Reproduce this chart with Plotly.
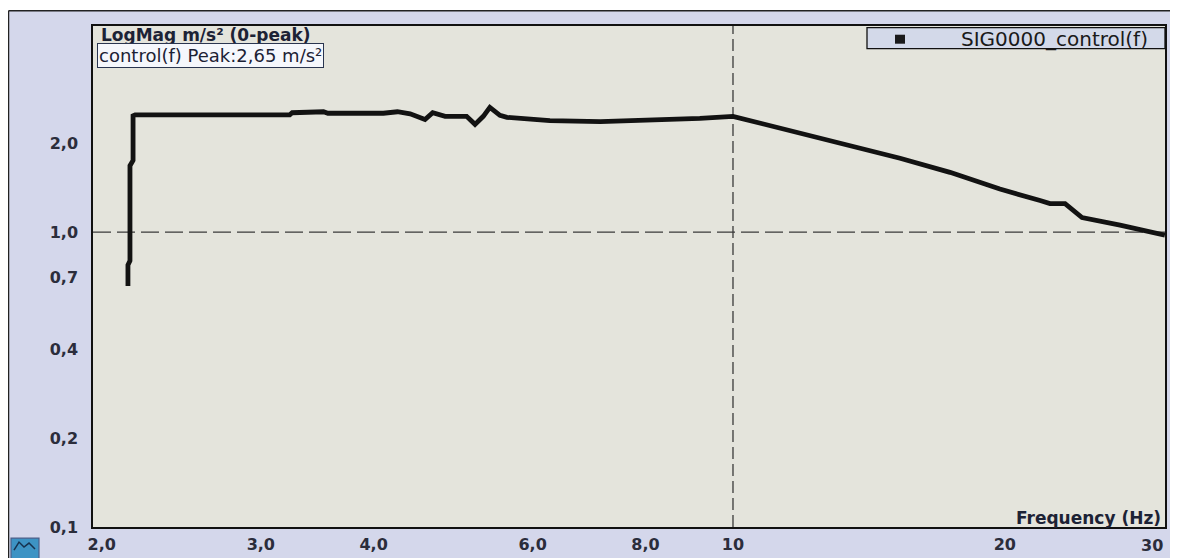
import math
import plotly.graph_objects as go

# ---- data ----
freq_hz = [2.138, 2.138, 2.149, 2.149, 2.166, 2.166, 2.178, 2.69, 2.70, 3.23, 3.25, 3.49,
           3.52, 3.56, 3.89, 4.10, 4.25, 4.39, 4.56, 4.65, 4.80, 5.07, 5.18, 5.29, 5.38,
           5.52, 5.62, 6.27, 7.13, 8.09, 9.19, 10.0, 11.86, 13.48, 15.31, 17.39, 19.75,
           21.88, 22.44, 23.32, 24.35, 26.83, 30.08]
control_mag = [0.657, 0.774, 0.80, 1.68, 1.75, 2.48, 2.50, 2.49, 2.50, 2.50, 2.54, 2.54,
               2.56, 2.53, 2.52, 2.53, 2.56, 2.52, 2.41, 2.54, 2.47, 2.47, 2.32, 2.47, 2.65,
               2.49, 2.45, 2.39, 2.37, 2.39, 2.43, 2.47, 2.16, 1.97, 1.78, 1.595, 1.40,
               1.28, 1.25, 1.25, 1.12, 1.056, 0.977]

x_tick_vals = [2, 3, 4, 6, 8, 10, 20, 30]
x_tick_text = ["2,0", "3,0", "4,0", "6,0", "8,0", "10", "20", "30"]
y_tick_vals = [0.1, 0.2, 0.4, 0.7, 1.0, 2.0]
y_tick_text = ["0,1", "0,2", "0,4", "0,7", "1,0", "2,0"]

series_name = "SIG0000_control(f)"
y_title = "LogMag m/s² (0-peak)"
peak_label = "control(f) Peak:2,65 m/s²"
x_title = "Frequency (Hz)"

# ---- figure geometry ----
W, H = 1178, 558
L, R, T, B = 85, 21, 18, 24
PW, PH = W - L - R, H - T - B
SX, SY = 1.0, 574 / 558   # page offset / scaling of the screenshot


def fx(r):
    return r * SX - 8


def fy(r):
    return r * SY - 8


def px(r):
    return (fx(r) - L) / PW


def py(r):
    return (H - B - fy(r)) / PH


OUTER = "#d4d7eb"
PLOT_BG = "#e4e4dc"
TXT = "#1c2235"

fig = go.Figure()
fig.add_trace(go.Scatter(
    x=freq_hz, y=control_mag, mode="lines", name=series_name,
    line=dict(color="#121212", width=4.8), showlegend=False,
    hoverinfo="x+y",
))

axis_font = dict(family="DejaVu Sans", size=16, color="#2b2d3b", weight="bold")

fig.update_layout(
    width=W, height=H,
    margin=dict(l=L, r=R, t=T, b=B),
    paper_bgcolor=OUTER,
    plot_bgcolor=PLOT_BG,
    showlegend=False,
    xaxis=dict(
        type="log", range=[0.2913, 1.4784],
        tickvals=x_tick_vals[:-1], ticktext=x_tick_text[:-1],
        showgrid=False, zeroline=False, ticks="",
        showline=True, linecolor="#111", linewidth=1.5, mirror=True,
        tickfont=axis_font, ticklabelstandoff=2,
    ),
    yaxis=dict(
        type="log", range=[-1.0, 0.699],
        tickvals=y_tick_vals, ticktext=y_tick_text,
        showgrid=False, zeroline=False, ticks="",
        showline=True, linecolor="#111", linewidth=1.5, mirror=True,
        tickfont=axis_font, ticklabelstandoff=10,
    ),
)

shapes = []
# dashed reference lines
shapes.append(dict(type="line", xref="paper", yref="y", x0=0, x1=1, y0=1.0, y1=1.0,
                   line=dict(color="#3a3a3a", width=1.3, dash="18px,6px"), layer="below"))
shapes.append(dict(type="line", xref="x", yref="paper", x0=10, x1=10, y0=0, y1=1,
                   line=dict(color="#3a3a3a", width=1.3, dash="12px,5px"), layer="below"))
# white margin strips and outer frame
shapes.append(dict(type="rect", xref="paper", yref="paper", x0=px(-20), x1=px(1200),
                   y0=py(10), y1=py(-20), fillcolor="white", line=dict(width=0), layer="above"))
shapes.append(dict(type="rect", xref="paper", yref="paper", x0=px(1176.5), x1=px(1200),
                   y0=py(600), y1=py(-20), fillcolor="white", line=dict(width=0), layer="above"))
shapes.append(dict(type="line", xref="paper", yref="paper", x0=px(8.5), x1=px(1176),
                   y0=py(10), y1=py(10), line=dict(color="#222", width=1.5)))
shapes.append(dict(type="line", xref="paper", yref="paper", x0=px(8.5), x1=px(8.5),
                   y0=py(10), y1=py(600), line=dict(color="#222", width=1.5)))
shapes.append(dict(type="line", xref="paper", yref="paper", x0=px(1175.5), x1=px(1175.5),
                   y0=py(10), y1=py(600), line=dict(color="#444", width=1.2)))
# legend box
shapes.append(dict(type="rect", xref="paper", yref="paper", x0=px(867), x1=px(1165),
                   y0=py(48), y1=py(27), fillcolor="#d3d9e9", line=dict(color="#111", width=1.3)))
shapes.append(dict(type="rect", xref="paper", yref="paper", x0=px(895), x1=px(905),
                   y0=py(43), y1=py(34), fillcolor="#1a1a1a", line=dict(width=0)))
# small icon bottom-left
shapes.append(dict(type="rect", xref="paper", yref="paper", x0=px(11), x1=px(39),
                   y0=py(560), y1=py(538), fillcolor="#3d93c4", line=dict(color="#4a5f8a", width=1.2)))
shapes.append(dict(type="path", xref="paper", yref="paper",
                   path=f"M {px(14)},{py(550)} L {px(19)},{py(542)} L {px(24)},{py(547)} "
                        f"L {px(29)},{py(543)} L {px(35)},{py(549)}",
                   line=dict(color="#17324f", width=1.5)))
fig.update_layout(shapes=shapes)

annotations = [
    dict(text=y_title, xref="paper", yref="paper", x=px(99), y=py(34.5),
         xanchor="left", yanchor="middle", showarrow=False,
         font=dict(family="DejaVu Sans", size=17, color=TXT, weight="bold")),
    dict(text=peak_label, xref="paper", yref="paper", x=px(97), y=py(55),
         xanchor="left", yanchor="middle", showarrow=False,
         bgcolor="#f5f7fc", bordercolor="#2a3550", borderwidth=1, borderpad=1,
         font=dict(family="DejaVu Sans", size=18, color=TXT)),
    dict(text=series_name, xref="paper", yref="paper", x=px(1150), y=py(38),
         xanchor="right", yanchor="middle", showarrow=False,
         font=dict(family="DejaVu Sans", size=20, color="#1a1a1a")),
    dict(text=x_title, xref="paper", yref="paper", x=px(1163), y=py(518),
         xanchor="right", yanchor="middle", showarrow=False,
         font=dict(family="DejaVu Sans", size=17, color=TXT, weight="bold")),
    # last x tick label, kept inside the frame like the original
    dict(text=x_tick_text[-1], xref="x", yref="paper", x=math.log10(x_tick_vals[-1]),
         y=py(545), xanchor="right", yanchor="middle", showarrow=False, xshift=1,
         font=axis_font),
]
fig.update_layout(annotations=annotations)

fig.write_html("out.html")
